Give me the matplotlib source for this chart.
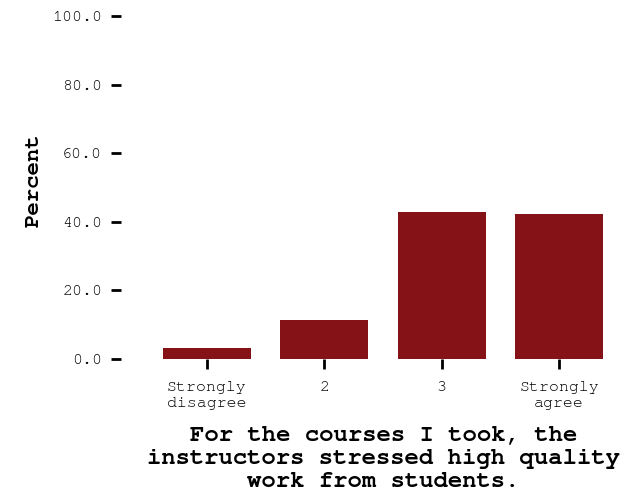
import matplotlib.pyplot as plt

categories = ['Strongly\ndisagree', '2', '3', 'Strongly\nagree']
percent = [3.2, 11.4, 42.9, 42.3]
yticks = [0, 20, 40, 60, 80, 100]

plt.rcParams['font.family'] = ['Courier New', 'Nimbus Mono PS', 'FreeMono', 'Liberation Mono', 'DejaVu Sans Mono']

fig = plt.figure(figsize=(6.31, 4.94), dpi=100)
ax = fig.add_axes([121 / 631, (494 - 359) / 494, (612 - 121) / 631, (359 - 16) / 494])

x = range(len(categories))
ax.bar(x, percent, width=0.75, color='#841216')

ax.set_xlim(-0.73, 3.45)
ax.set_ylim(0, 100)
ax.set_yticks(yticks)
ax.set_yticklabels(['%.1f' % v for v in yticks], fontsize=12)
ax.set_xticks(list(x))
ax.set_xticklabels(categories, fontsize=12, linespacing=1.25)

for s in ax.spines.values():
    s.set_visible(False)
ax.tick_params(axis='both', length=7.5, width=2, color='black')
ax.tick_params(axis='y', pad=6)
ax.tick_params(axis='x', pad=8.5)

ax.set_ylabel('Percent', fontsize=16, fontweight='bold')
ax.yaxis.set_label_coords(-0.16, 0.522)
ax.set_xlabel('For the courses I took, the\ninstructors stressed high quality\nwork from students.',
              fontsize=17.2, fontweight='bold', linespacing=1.2, labelpad=12)
ax.xaxis.label.set_x(0.535)

fig.savefig('out.png', dpi=100)
